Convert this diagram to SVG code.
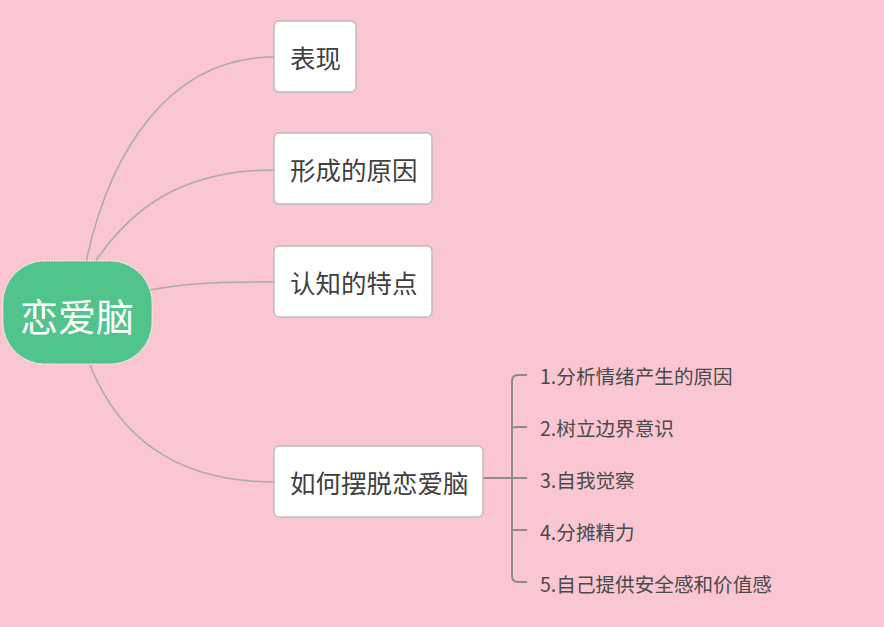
<svg xmlns="http://www.w3.org/2000/svg" width="884" height="627" viewBox="0 0 884 627">
<style>
.node rect{fill:#fff;stroke:#bdbdbd;stroke-width:1.5}
.node text{font-family:"Noto Sans CJK SC","Noto Sans",sans-serif;font-size:25.5px;fill:#404040;dominant-baseline:central}
.sub text{font-family:"Noto Sans CJK SC","Noto Sans",sans-serif;font-size:19.6px;fill:#4a4a4a;dominant-baseline:central}
.conn path{fill:none;stroke:#aaaaaa;stroke-width:1.5}
.br path{fill:none;stroke:#8c8c8c;stroke-width:2}
</style>
<rect width="884" height="627" fill="#F9C6D2"/>
<g class="conn" id="connectors">
<path d="M86,262 C110,150 170,57 274,57"/>
<path d="M95,262 C130,210 180,170 274,170"/>
<path d="M150,290 C180,284 210,282 274,282"/>
<path d="M90,365 C120,440 180,482 274,482"/>
</g>
<g class="br" id="bracket">
<path d="M483,478 H512"/>
<path d="M527,375 H518 Q512,375 512,381 V576 Q512,582 518,582 H527"/>
<path d="M512,428 Q512,427 518,427 H527"/>
<path d="M512,478 H527"/>
<path d="M512,530 Q512,530 518,530 H527"/>
</g>
<g id="root">
<rect x="3" y="261" width="149" height="103" rx="42" fill="#50C48A" stroke="#ffffff" stroke-width="1" stroke-dasharray="1.5,1"/>
<text x="77" y="314" text-anchor="middle" font-family="Noto Sans CJK SC,sans-serif" font-size="38" fill="#ffffff" dominant-baseline="central">恋爱脑</text>
</g>
<g class="node" id="n1"><rect x="274" y="21" width="82" height="71" rx="5"/><text x="290" y="56">表现</text></g>
<g class="node" id="n2"><rect x="274" y="133" width="158" height="71" rx="5"/><text x="290" y="168">形成的原因</text></g>
<g class="node" id="n3"><rect x="274" y="246" width="158" height="71" rx="5"/><text x="290" y="281">认知的特点</text></g>
<g class="node" id="n4"><rect x="274" y="446" width="209" height="71" rx="5"/><text x="290" y="481">如何摆脱恋爱脑</text></g>
<g class="sub" id="s1"><text x="540" y="375">1.分析情绪产生的原因</text></g>
<g class="sub" id="s2"><text x="540" y="427">2.树立边界意识</text></g>
<g class="sub" id="s3"><text x="540" y="479">3.自我觉察</text></g>
<g class="sub" id="s4"><text x="540" y="531">4.分摊精力</text></g>
<g class="sub" id="s5"><text x="540" y="583">5.自己提供安全感和价值感</text></g>
</svg>
